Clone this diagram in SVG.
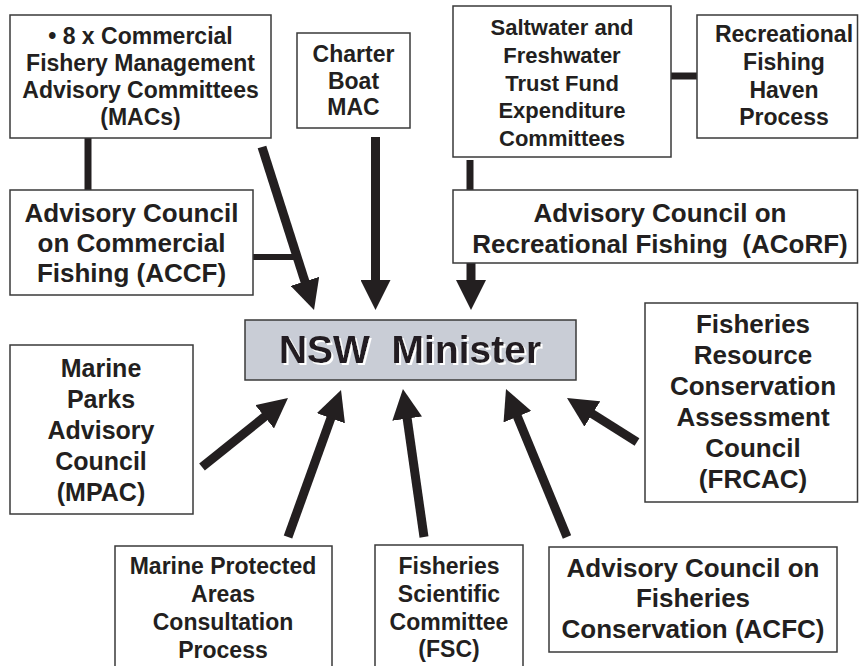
<svg xmlns="http://www.w3.org/2000/svg" width="859" height="666" viewBox="0 0 859 666">
<style>
.box{fill:#fff;stroke:#3a3a3a;stroke-width:1.5}
.t{font-family:"Liberation Sans",Arial,sans-serif;font-weight:bold;fill:#231f20;text-anchor:middle}
.s23{font-size:23px}
.s22{font-size:22px}
.s25{font-size:25px}
.s26{font-size:26px}
.link{stroke:#231f20;fill:none}
.arr{stroke:#231f20;stroke-width:9;fill:none;marker-end:url(#ah)}
</style>
<defs>
<marker id="ah" markerUnits="userSpaceOnUse" markerWidth="30" markerHeight="30" viewBox="0 0 30 30" refX="4" refY="15" orient="auto">
<path d="M0,0 L30,15 L0,30 Z" fill="#231f20"/>
</marker>
<filter id="wshadow" x="-5%" y="-20%" width="110%" height="140%">
<feDropShadow dx="2" dy="2" stdDeviation="0" flood-color="#ffffff" flood-opacity="1"/>
</filter>
</defs>
<rect width="859" height="666" fill="#fff"/>
<g id="connectors">
<line class="link" x1="88" y1="138" x2="88" y2="190" stroke-width="7"/>
<line class="link" x1="253" y1="257" x2="298" y2="257" stroke-width="6"/>
<line class="link" x1="671" y1="76" x2="697" y2="76" stroke-width="7"/>
<line class="link" x1="470" y1="160" x2="470" y2="190" stroke-width="7"/>
<line class="arr" x1="262" y1="147" x2="306.1" y2="285.2"/>
<line class="arr" x1="375.5" y1="137" x2="375.5" y2="284"/>
<line class="arr" x1="471" y1="263" x2="471" y2="284"/>
<line class="arr" x1="202" y1="467" x2="267.7" y2="414.3"/>
<line class="arr" x1="288" y1="537" x2="332.2" y2="414.5"/>
<line class="arr" x1="424" y1="537" x2="406.6" y2="414.7"/>
<line class="arr" x1="567" y1="537" x2="515.9" y2="413"/>
<line class="arr" x1="637" y1="442" x2="589" y2="411.8"/>
</g>
<g id="macs">
<rect class="box" x="10" y="15" width="261" height="123"/>
<text class="t s23" x="140.5" y="44">• 8 x Commercial</text>
<text class="t s23" x="140.5" y="71">Fishery Management</text>
<text class="t s23" x="140.5" y="98">Advisory Committees</text>
<text class="t s23" x="140.5" y="125">(MACs)</text>
</g>
<g id="charter">
<rect class="box" x="297" y="33" width="113" height="95"/>
<text class="t s23" x="353.5" y="62">Charter</text>
<text class="t s23" x="353.5" y="88.5">Boat</text>
<text class="t s23" x="353.5" y="115">MAC</text>
</g>
<g id="accf">
<rect class="box" x="10" y="190" width="243" height="105"/>
<text class="t s26" x="131.5" y="222">Advisory Council</text>
<text class="t s26" x="131.5" y="252">on Commercial</text>
<text class="t s26" x="131.5" y="282">Fishing (ACCF)</text>
</g>
<g id="trustfund">
<rect class="box" x="453" y="6" width="218" height="151"/>
<text class="t s22" x="562" y="35">Saltwater and</text>
<text class="t s22" x="562" y="63">Freshwater</text>
<text class="t s22" x="562" y="90.5">Trust Fund</text>
<text class="t s22" x="562" y="118">Expenditure</text>
<text class="t s22" x="562" y="146">Committees</text>
</g>
<g id="haven">
<rect class="box" x="697" y="15" width="160.5" height="123"/>
<text class="t s23" x="784" y="42">Recreational</text>
<text class="t s23" x="784" y="70">Fishing</text>
<text class="t s23" x="784" y="97.5">Haven</text>
<text class="t s23" x="784" y="125">Process</text>
</g>
<g id="acorf">
<rect class="box" x="453" y="190" width="404.5" height="73"/>
<text class="t s26" x="660" y="222">Advisory Council on</text>
<text class="t s26" x="660" y="253" xml:space="preserve">Recreational Fishing  (ACoRF)</text>
</g>
<g id="minister">
<rect x="245" y="320" width="331" height="60" fill="#c9cdd6" stroke="#3a3a3a" stroke-width="1.5"/>
<text class="t" x="410" y="363" style="font-size:39px" filter="url(#wshadow)" xml:space="preserve">NSW  Minister</text>
</g>
<g id="mpac">
<rect class="box" x="10" y="345" width="183" height="169"/>
<text class="t s25" x="101" y="377">Marine</text>
<text class="t s25" x="101" y="408">Parks</text>
<text class="t s25" x="101" y="439">Advisory</text>
<text class="t s25" x="101" y="470">Council</text>
<text class="t s25" x="101" y="501">(MPAC)</text>
</g>
<g id="frcac">
<rect class="box" x="645" y="303" width="212.5" height="199"/>
<text class="t s26" x="753" y="333">Fisheries</text>
<text class="t s26" x="753" y="364">Resource</text>
<text class="t s26" x="753" y="395">Conservation</text>
<text class="t s26" x="753" y="426">Assessment</text>
<text class="t s26" x="753" y="457">Council</text>
<text class="t s26" x="753" y="488">(FRCAC)</text>
</g>
<g id="mpacp">
<rect class="box" x="115" y="546" width="217" height="134"/>
<text class="t s23" x="223" y="574">Marine Protected</text>
<text class="t s23" x="223" y="602">Areas</text>
<text class="t s23" x="223" y="630">Consultation</text>
<text class="t s23" x="223" y="658">Process</text>
</g>
<g id="fsc">
<rect class="box" x="375" y="545" width="148" height="135"/>
<text class="t s23" x="449" y="574">Fisheries</text>
<text class="t s23" x="449" y="602">Scientific</text>
<text class="t s23" x="449" y="630">Committee</text>
<text class="t s23" x="449" y="657">(FSC)</text>
</g>
<g id="acfc">
<rect class="box" x="549" y="547" width="288" height="105"/>
<text class="t s26" x="693" y="577">Advisory Council on</text>
<text class="t s26" x="693" y="607">Fisheries</text>
<text class="t s26" x="693" y="638">Conservation (ACFC)</text>
</g>
</svg>
